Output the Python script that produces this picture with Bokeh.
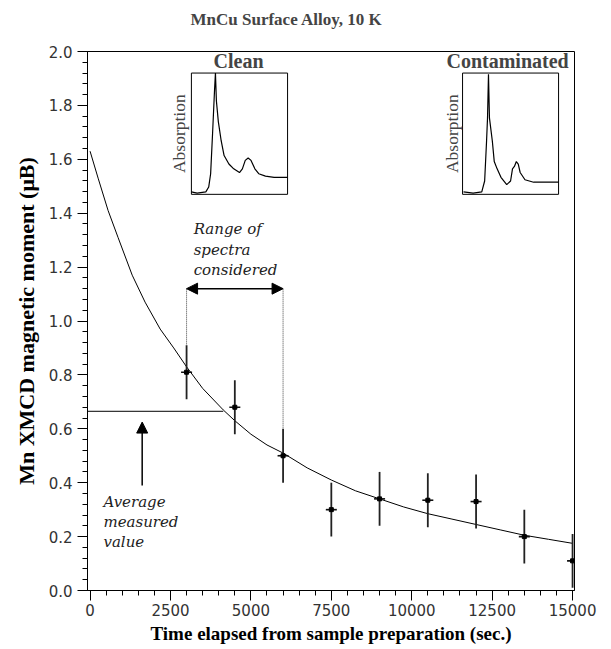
from bokeh.plotting import figure
from bokeh.models import (Range1d, Arrow, NormalHead, Label, SingleIntervalTicker,
                          PrintfTickFormatter)
from bokeh.embed import file_html
from bokeh.resources import INLINE

# ---------------- data ----------------
curve_x = [0, 250, 560, 870, 1310, 1710, 2180, 2600, 3000, 3500, 4140, 4500, 5000,
           5500, 6000, 6750, 7500, 8250, 9000, 9750, 10500, 11250, 12000, 12750,
           13500, 14250, 15000]
curve_y = [1.63, 1.53, 1.41, 1.31, 1.17, 1.07, 0.97, 0.90, 0.83, 0.75, 0.67, 0.63, 0.58,
           0.54, 0.51, 0.455, 0.41, 0.37, 0.34, 0.31, 0.285, 0.265, 0.245, 0.225,
           0.205, 0.19, 0.175]

pts_x = [3000, 4500, 6000, 7500, 9000, 10500, 12000, 13500, 15000]
pts_y = [0.81, 0.68, 0.50, 0.30, 0.34, 0.335, 0.33, 0.20, 0.11]
pts_err = [0.10, 0.10, 0.10, 0.10, 0.10, 0.10, 0.10, 0.10, 0.10]

avg_value = 0.665
avg_end_x = 4140
range_start, range_end = 3000, 6000
range_arrow_y = 1.12
range_dot_bottom = [0.91, 0.60]

clean_sx = [0.00, 0.06, 0.15, 0.18, 0.20, 0.22, 0.24, 0.25, 0.26, 0.28, 0.31, 0.34,
            0.39, 0.44, 0.50, 0.53, 0.56, 0.59, 0.62, 0.66, 0.70, 0.77, 0.86, 1.00]
clean_sy = [0.02, 0.01, 0.02, 0.06, 0.17, 0.50, 0.85, 1.00, 0.77, 0.60, 0.44, 0.32,
            0.25, 0.21, 0.18, 0.21, 0.28, 0.30, 0.28, 0.21, 0.17, 0.15, 0.14, 0.14]
cont_sx = [0.01, 0.11, 0.20, 0.23, 0.25, 0.26, 0.27, 0.28, 0.31, 0.33, 0.36, 0.40,
           0.46, 0.50, 0.52, 0.54, 0.56, 0.58, 0.60, 0.65, 0.74, 1.00]
cont_sy = [0.02, 0.01, 0.02, 0.11, 0.44, 0.63, 0.99, 0.63, 0.44, 0.27, 0.21, 0.14,
           0.08, 0.11, 0.21, 0.23, 0.27, 0.25, 0.18, 0.12, 0.10, 0.10]

title_text = "MnCu Surface Alloy, 10 K"

# ---------------- layout constants ----------------
X0, X1 = -80, 15060
Y0, Y1 = 0.0, 2.0
clean_box = (3150, 6140, 1.47, 1.92)
cont_box = (11580, 14565, 1.47, 1.92)

SERIF = "Liberation Serif"
ITAL = "DejaVu Serif"

p = figure(width=610, height=648, x_range=Range1d(X0, X1), y_range=Range1d(Y0, Y1),
           output_backend="svg", toolbar_location=None,
           min_border_left=87, min_border_right=36, min_border_top=51,
           min_border_bottom=58)
p.background_fill_color = "white"
p.border_fill_color = "white"
p.outline_line_color = "black"
p.outline_line_width = 1
p.grid.visible = False

# title: an empty second line lifts the text higher above the frame
p.title.text = title_text + "\n"
p.title.text_font = SERIF
p.title.text_font_style = "bold"
p.title.text_font_size = "17px"
p.title.text_line_height = 1.1
p.title.align = "left"
p.title.offset = 103
p.title.standoff = 4

p.xaxis.ticker = SingleIntervalTicker(interval=2500, num_minor_ticks=5)
p.yaxis.ticker = SingleIntervalTicker(interval=0.2, num_minor_ticks=5)
p.yaxis.formatter = PrintfTickFormatter(format="%.1f")
for ax in (p.xaxis[0], p.yaxis[0]):
    ax.major_tick_out = 10
    ax.major_tick_in = 0
    ax.minor_tick_out = 5
    ax.minor_tick_in = 0
    ax.major_label_text_font = "DejaVu Sans"
    ax.major_label_text_font_size = "15px"
    ax.major_label_text_color = "#333333"
    ax.axis_line_color = "black"
    ax.axis_label_text_font = SERIF
    ax.axis_label_text_font_style = "bold"
    ax.axis_label_text_color = "black"
p.xaxis.axis_label_text_font_size = "19px"
p.yaxis.axis_label_text_font_size = "22px"
p.xaxis.major_label_standoff = 3
p.yaxis.major_label_standoff = 5
p.xaxis.axis_label = "Time elapsed from sample preparation (sec.)"
p.xaxis.axis_label_standoff = 4
p.yaxis.axis_label = "Mn XMCD magnetic moment (μB)"
p.yaxis.axis_label_standoff = 7

# fitted curve
p.line(curve_x, curve_y, line_color="black", line_width=1)

# error bars
lower = [y - e for y, e in zip(pts_y, pts_err)]
upper = [y + e for y, e in zip(pts_y, pts_err)]
p.segment(x0=pts_x, y0=lower, x1=pts_x, y1=upper, line_color="#222222", line_width=1.8)
p.scatter(pts_x, pts_y, marker="dash", size=11, line_color="#111111", line_width=1.6)
p.scatter(pts_x, pts_y, marker="square", size=4, fill_color="black", line_color="black")

# average measured value line + arrow
p.segment(x0=[X0], y0=[avg_value], x1=[avg_end_x], y1=[avg_value], line_color="black",
          line_width=1)
p.add_layout(Arrow(end=NormalHead(size=11, fill_color="black", line_color="black"),
                   x_start=1620, y_start=0.39, x_end=1620, y_end=0.625,
                   line_color="black", line_width=1.5))
for txt, yy in (("Average", 0.33), ("measured", 0.255), ("value", 0.18)):
    p.add_layout(Label(x=415, y=yy, text=txt, text_font=ITAL, text_font_style="italic",
                       text_font_size="15px", text_baseline="middle", text_color="#222222"))

# range of spectra considered
p.add_layout(Arrow(start=NormalHead(size=11, fill_color="black", line_color="black"),
                   end=NormalHead(size=11, fill_color="black", line_color="black"),
                   x_start=range_start, y_start=range_arrow_y, x_end=range_end,
                   y_end=range_arrow_y, line_color="black", line_width=1.5))
p.segment(x0=[range_start, range_end], y0=[range_arrow_y, range_arrow_y],
          x1=[range_start, range_end], y1=range_dot_bottom, line_color="#444444",
          line_width=1, line_dash="1 1")
for txt, yy in (("Range of", 1.34), ("spectra", 1.265), ("considered", 1.19)):
    p.add_layout(Label(x=3220, y=yy, text=txt, text_font=ITAL, text_font_style="italic",
                       text_font_size="15px", text_baseline="middle", text_color="#222222"))

# insets
def inset(name, box, sx, sy, title, title_x, abs_x):
    l, r, b, t = box
    w, h = r - l, t - b
    p.extra_x_ranges[name + "_x"] = Range1d(-(l - X0) / w, 1 + (X1 - r) / w)
    p.extra_y_ranges[name + "_y"] = Range1d(-(b - Y0) / h, 1 + (Y1 - t) / h)
    p.quad(left=[l], right=[r], bottom=[b], top=[t], fill_color="white",
           line_color="black", line_width=1)
    p.line(sx, sy, x_range_name=name + "_x", y_range_name=name + "_y",
           line_color="black", line_width=1.2)
    p.add_layout(Label(x=title_x, y=1.965, text=title, text_font=SERIF,
                       text_font_style="bold", text_font_size="20px",
                       text_align="center", text_baseline="middle"))
    p.add_layout(Label(x=abs_x, y=(b + t) / 2, text="Absorption", text_font=SERIF,
                       text_font_size="17.5px", text_align="center",
                       text_baseline="middle", angle=90, angle_units="deg"))

inset("clean", clean_box, clean_sx, clean_sy, "Clean", 4615, 2780)
inset("cont", cont_box, cont_sx, cont_sy, "Contaminated", 12980, 11240)

open("out.html", "w").write(file_html(p, INLINE))
